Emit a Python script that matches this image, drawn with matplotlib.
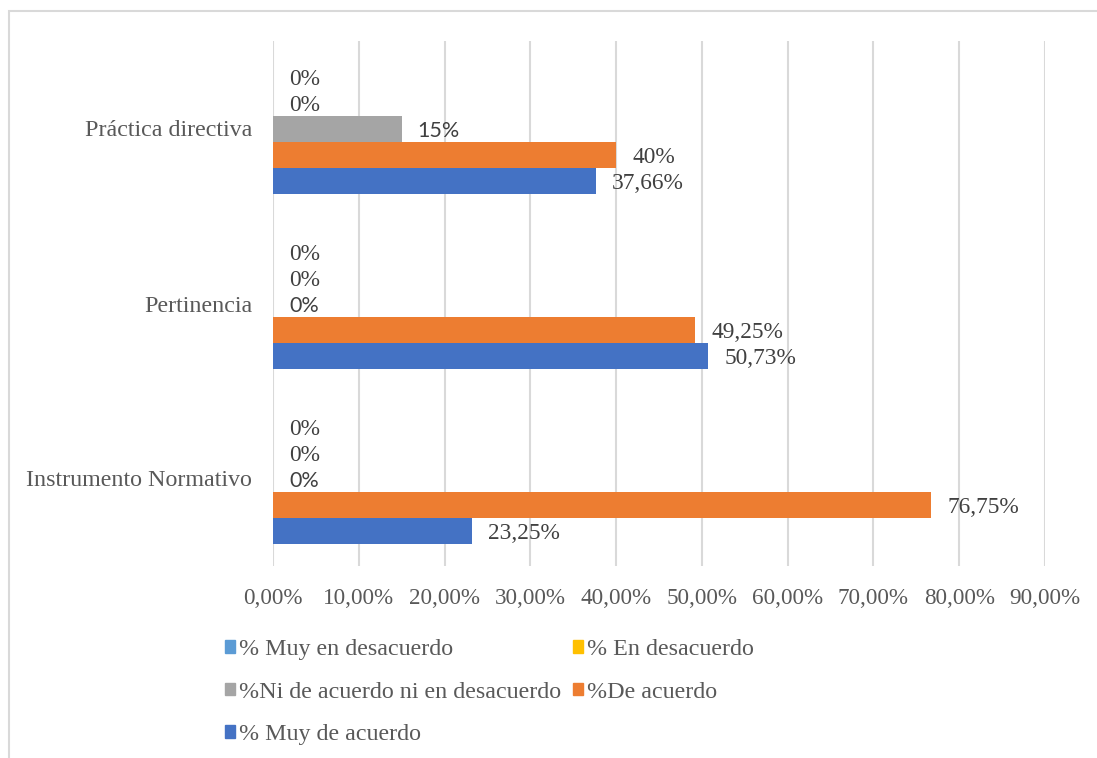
import matplotlib.pyplot as plt
from matplotlib.patches import Patch, Rectangle
from matplotlib.ticker import FuncFormatter

categorias = ['Instrumento Normativo', 'Pertinencia', 'Práctica directiva']

# valores en %, de abajo hacia arriba dentro de cada grupo
muy_de_acuerdo = [23.25, 50.73, 37.66]
de_acuerdo = [76.75, 49.25, 40]
ni_ni = [0, 0, 15]
en_desacuerdo = [0, 0, 0]
muy_en_desacuerdo = [0, 0, 0]

etiquetas_muy_de = ['23,25%', '50,73%', '37,66%']
etiquetas_de = ['76,75%', '49,25%', '40%']
etiquetas_ni = ['0%', '0%', '15%']
etiquetas_en = ['0%', '0%', '0%']
etiquetas_muy_en = ['0%', '0%', '0%']

series = [
    ('% Muy de acuerdo', muy_de_acuerdo, etiquetas_muy_de, '#4472C4', 'Liberation Serif'),
    ('%De acuerdo', de_acuerdo, etiquetas_de, '#ED7D31', 'Liberation Serif'),
    ('%Ni de acuerdo ni en desacuerdo', ni_ni, etiquetas_ni, '#A5A5A5', 'Lato'),
    ('% En desacuerdo', en_desacuerdo, etiquetas_en, '#FFC000', 'Liberation Serif'),
    ('% Muy en desacuerdo', muy_en_desacuerdo, etiquetas_muy_en, '#5B9BD5', 'Liberation Serif'),
]

W, H = 1097, 758
fig = plt.figure(figsize=(W / 100, H / 100), dpi=100)
fig.patches.append(Rectangle((9 / W, -0.1), 1.2, 1.1 - 11 / H, transform=fig.transFigure,
                             fill=False, edgecolor='#D9D9D9', linewidth=1.5))

ax = fig.add_axes([273 / W, 1 - 566 / H, 772 / W, 525 / H])

alto = 26 / 175
texto = '#404040'
for i, (nombre, valores, etiquetas, color, fuente) in enumerate(series):
    pos = [c + (i - 2) * alto for c in range(len(categorias))]
    ax.barh(pos, valores, height=alto, color=color, zorder=2)
    for y, v, et in zip(pos, valores, etiquetas):
        ax.annotate(et, (v, y), xytext=(11.5, -2), textcoords='offset points',
                    va='center', ha='left', fontsize=15.5 if fuente == 'Lato' else 16.8,
                    family=fuente, color=texto)

ax.set_xlim(0, 90)
ax.set_ylim(-0.5, 2.5)
ax.set_xticks(range(0, 91, 10))
ax.xaxis.set_major_formatter(FuncFormatter(lambda x, p: f'{x:.2f}%'.replace('.', ',')))
ax.set_yticks(range(len(categorias)))
ax.set_yticklabels(categorias, fontsize=17.3)
ax.grid(axis='x', color='#D9D9D9', linewidth=1.5, zorder=0)
for s in ax.spines.values():
    s.set_visible(False)
ax.tick_params(length=0, labelcolor='#595959')
ax.tick_params(axis='x', pad=16, labelsize=16.7)
ax.tick_params(axis='y', pad=15)
for lab in ax.get_xticklabels() + ax.get_yticklabels():
    lab.set_family('Liberation Serif')

# leyenda en dos columnas, en el orden de Excel
orden = [4, 2, 0, 3, 1]
handles = [Patch(color=series[k][3], label=series[k][0]) for k in orden]
fig.legend(handles=handles, loc='upper left', bbox_to_anchor=(213 / W, 1 - 627 / H),
           ncol=2, frameon=False, prop={'family': 'Liberation Serif', 'size': 17.3},
           labelcolor='#595959', handlelength=0.43, handleheight=0.43,
           handletextpad=0.15, columnspacing=0.5, labelspacing=0.9, borderpad=0)

fig.savefig('out.png', dpi=100)
